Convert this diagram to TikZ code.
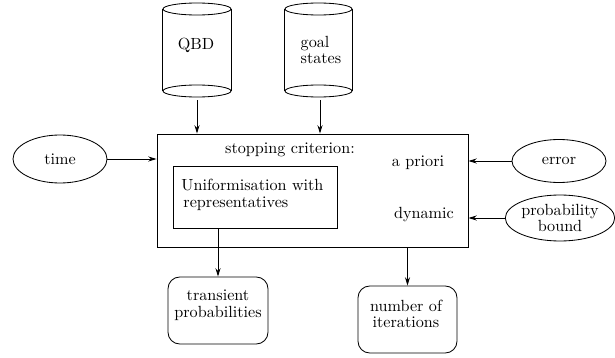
\documentclass[tikz,border=0pt]{standalone}
\usetikzlibrary{fit,arrows.meta,shapes.geometric}
\begin{document}
\begin{tikzpicture}[x=0.6pt,y=-0.6pt,line width=0.5pt,
  every node/.style={font=\fontsize{9.7}{10}\selectfont},
  box/.style={draw, inner sep=0pt},
  oval/.style={draw, ellipse, inner sep=0pt, minimum width=56.4pt},
  rbox/.style={draw, rounded corners=7pt, inner sep=0pt},
  lbl/.style={inner sep=0pt},
  arr/.style={-{Stealth[length=5pt,width=3pt]}}]
\useasboundingbox (0,0) rectangle (615,358);

% cylinders
\node[inner sep=0pt, fit={(163,3)(231,97)}] (qbd) {};
\draw (qbd.north west |- 0,9) -- (qbd.south west |- 0,91)
      (qbd.north east |- 0,9) -- (qbd.south east |- 0,91);
\draw (197,9) ellipse [x radius=20.4pt, y radius=3.6pt];
\draw (197,91) ellipse [x radius=20.4pt, y radius=3.6pt];
\node[lbl] (qbdt) at (196,45) {QBD};

\node[inner sep=0pt, fit={(285,3)(352,97)}] (goal) {};
\draw (goal.north west |- 0,9) -- (goal.south west |- 0,91)
      (goal.north east |- 0,9) -- (goal.south east |- 0,91);
\draw (318.5,9) ellipse [x radius=20.1pt, y radius=3.6pt];
\draw (318.5,91) ellipse [x radius=20.1pt, y radius=3.6pt];
\node[lbl, align=left] (goalt) at (321,50) {goal\\states};

% main box
\node[box, fit={(157,134)(468,247)}] (main) {};
\node[box, fit={(173,166)(337,228)}] (inner) {};
\node[lbl] (stop) at (290,150) {stopping criterion:};
\node[lbl] (apriori) at (418,163) {a priori};
\node[lbl] (dyn) at (424,215) {dynamic};
\node[lbl, anchor=west] (uni1) at (181,185) {Uniformisation with};
\node[lbl, anchor=west] (uni2) at (183,204) {representatives};

% ellipses
\node[oval, minimum height=28.8pt] (time) at (60,159) {time};
\node[oval, minimum height=25.8pt] (error) at (559,161) {error};
\node[oval, minimum height=27.6pt, align=center] (prob) at (560,218) {probability\\bound};

% outputs
\node[rbox, fit={(168,277)(268,344)}] (trans) {};
\node[lbl, align=center] (transt) at (218,305) {transient\\probabilities};
\node[rbox, fit={(358,286)(457,353)}] (iter) {};
\node[lbl, align=center] (itert) at (406,314) {number of\\iterations};

% connectors
\draw[arr] ([yshift=-1.8pt]qbd.south) -- (qbd.south |- main.north);
\draw[arr] ([xshift=0.9pt,yshift=-1.8pt]goal.south) -- ([xshift=0.9pt]goal.south |- main.north);
\draw[arr] (time.east) -- (time.east -| main.west);
\draw[arr] (error.west) -- (error.west -| main.east);
\draw[arr] (prob.west) -- (prob.west -| main.east);
\draw[arr] (trans.north |- inner.south) -- (trans.north);
\draw[arr] (iter.north |- main.south) -- (iter.north);
\end{tikzpicture}
\end{document}
